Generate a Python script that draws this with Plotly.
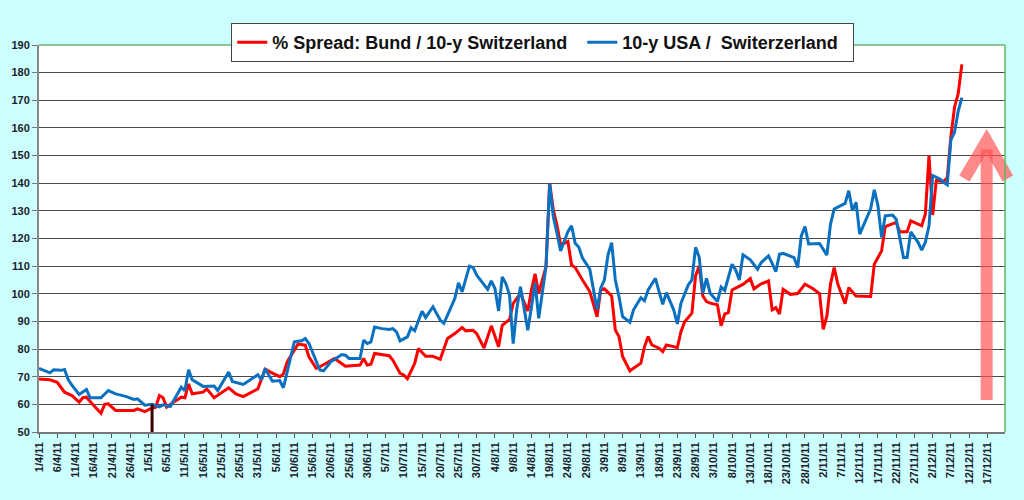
import plotly.graph_objects as go

# spread Bund vs 10-y Switzerland (bp)
bund_dates = [
    "2011-04-01", "2011-04-04", "2011-04-06", "2011-04-08", "2011-04-10", "2011-04-12", "2011-04-13",
    "2011-04-14", "2011-04-16", "2011-04-18", "2011-04-19", "2011-04-20", "2011-04-22", "2011-04-27",
    "2011-04-28", "2011-04-30", "2011-05-02", "2011-05-03", "2011-05-04", "2011-05-05", "2011-05-06",
    "2011-05-07", "2011-05-10", "2011-05-11", "2011-05-12", "2011-05-13", "2011-05-16", "2011-05-17",
    "2011-05-19", "2011-05-23", "2011-05-25", "2011-05-27", "2011-05-31", "2011-06-02", "2011-06-04",
    "2011-06-06", "2011-06-07", "2011-06-08", "2011-06-11", "2011-06-13", "2011-06-14", "2011-06-16",
    "2011-06-17", "2011-06-21", "2011-06-22", "2011-06-24", "2011-06-28", "2011-06-29", "2011-06-30",
    "2011-07-01", "2011-07-02", "2011-07-04", "2011-07-06", "2011-07-07", "2011-07-09", "2011-07-10",
    "2011-07-11", "2011-07-13", "2011-07-14", "2011-07-16", "2011-07-18", "2011-07-20", "2011-07-22",
    "2011-07-24", "2011-07-26", "2011-07-27", "2011-07-29", "2011-07-30", "2011-08-01", "2011-08-03",
    "2011-08-05", "2011-08-06", "2011-08-08", "2011-08-09", "2011-08-10", "2011-08-11", "2011-08-13",
    "2011-08-14", "2011-08-15", "2011-08-16", "2011-08-18", "2011-08-19", "2011-08-20", "2011-08-21",
    "2011-08-22", "2011-08-24", "2011-08-25", "2011-08-26", "2011-08-28", "2011-08-30", "2011-09-01",
    "2011-09-02", "2011-09-03", "2011-09-05", "2011-09-06", "2011-09-07", "2011-09-08", "2011-09-10",
    "2011-09-11", "2011-09-13", "2011-09-14", "2011-09-15", "2011-09-16", "2011-09-18", "2011-09-19",
    "2011-09-20", "2011-09-22", "2011-09-23", "2011-09-24", "2011-09-25", "2011-09-27", "2011-09-28",
    "2011-09-29", "2011-09-30", "2011-10-01", "2011-10-02", "2011-10-04", "2011-10-05", "2011-10-06",
    "2011-10-07", "2011-10-08", "2011-10-10", "2011-10-11", "2011-10-13", "2011-10-14", "2011-10-16",
    "2011-10-18", "2011-10-19", "2011-10-20", "2011-10-21", "2011-10-22", "2011-10-24", "2011-10-26",
    "2011-10-28", "2011-10-30", "2011-11-01", "2011-11-02", "2011-11-03", "2011-11-04", "2011-11-05",
    "2011-11-06", "2011-11-08", "2011-11-09", "2011-11-11", "2011-11-15", "2011-11-16", "2011-11-18",
    "2011-11-19", "2011-11-22", "2011-11-23", "2011-11-25", "2011-11-26", "2011-11-29", "2011-11-30",
    "2011-12-01", "2011-12-02", "2011-12-03", "2011-12-05", "2011-12-06", "2011-12-07", "2011-12-08",
    "2011-12-09", "2011-12-10",
]
bund_spread = [
    69.2, 68.9, 68.0, 64.4, 63.2, 60.8, 62.4,
    62.6, 59.6, 56.8, 60.0, 60.2, 57.8, 57.8,
    58.4, 57.4, 58.7, 59.0, 63.2, 62.4, 59.0,
    60.0, 62.6, 62.4, 67.4, 63.8, 64.4, 65.6,
    62.4, 66.0, 63.8, 62.8, 65.6, 72.7, 71.3,
    70.0, 71.0, 75.3, 81.8, 81.4, 77.2, 73.0,
    73.6, 76.6, 75.7, 73.8, 74.2, 76.6, 74.2,
    74.5, 78.4, 78.0, 77.6, 76.0, 71.2, 70.6,
    69.3, 74.8, 80.2, 77.4, 77.4, 76.3, 83.8,
    85.6, 87.8, 86.6, 86.8, 85.6, 80.4, 88.4,
    80.8, 88.6, 90.7, 96.5, 98.3, 100.1, 93.8,
    101.4, 107.2, 100.2, 109.8, 140.0, 130.4, 124.9,
    117.7, 118.9, 110.4, 109.5, 105.0, 100.8, 91.7,
    101.4, 101.8, 99.2, 86.9, 84.5, 77.3, 72.1,
    73.1, 74.9, 80.9, 84.5, 81.5, 80.3, 79.1,
    81.5, 80.9, 80.5, 86.3, 89.9, 93.0, 106.5,
    110.1, 99.2, 97.2, 96.6, 96.0, 88.4, 92.7,
    93.2, 101.4, 102.6, 103.4, 105.5, 101.8, 103.6,
    104.7, 94.2, 95.0, 92.7, 101.6, 99.8, 100.1,
    103.5, 102.0, 100.1, 87.1, 92.0, 103.5, 109.5,
    103.5, 96.4, 102.2, 99.2, 99.0, 110.7, 115.5,
    124.3, 125.8, 122.4, 122.4, 126.4, 124.6, 128.9,
    150.0, 128.5, 141.0, 140.6, 142.0, 157.0, 167.5,
    172.4, 183.0,
]

# spread 10-y USA vs 10-y Switzerland (bp)
usa_dates = [
    "2011-04-01", "2011-04-04", "2011-04-05", "2011-04-07", "2011-04-08", "2011-04-09", "2011-04-10",
    "2011-04-12", "2011-04-14", "2011-04-15", "2011-04-18", "2011-04-20", "2011-04-22", "2011-04-25",
    "2011-04-27", "2011-04-28", "2011-04-30", "2011-05-02", "2011-05-04", "2011-05-05", "2011-05-07",
    "2011-05-10", "2011-05-11", "2011-05-12", "2011-05-13", "2011-05-16", "2011-05-19", "2011-05-20",
    "2011-05-23", "2011-05-24", "2011-05-27", "2011-05-31", "2011-06-01", "2011-06-02", "2011-06-04",
    "2011-06-06", "2011-06-07", "2011-06-08", "2011-06-10", "2011-06-12", "2011-06-13", "2011-06-14",
    "2011-06-17", "2011-06-18", "2011-06-20", "2011-06-21", "2011-06-23", "2011-06-24", "2011-06-25",
    "2011-06-28", "2011-06-29", "2011-06-30", "2011-07-01", "2011-07-02", "2011-07-04", "2011-07-06",
    "2011-07-07", "2011-07-08", "2011-07-09", "2011-07-11", "2011-07-12", "2011-07-13", "2011-07-15",
    "2011-07-16", "2011-07-18", "2011-07-20", "2011-07-21", "2011-07-22", "2011-07-24", "2011-07-25",
    "2011-07-26", "2011-07-28", "2011-07-29", "2011-07-30", "2011-07-31", "2011-08-02", "2011-08-03",
    "2011-08-04", "2011-08-05", "2011-08-06", "2011-08-07", "2011-08-08", "2011-08-09", "2011-08-10",
    "2011-08-11", "2011-08-13", "2011-08-14", "2011-08-15", "2011-08-16", "2011-08-18", "2011-08-19",
    "2011-08-20", "2011-08-21", "2011-08-22", "2011-08-24", "2011-08-25", "2011-08-26", "2011-08-27",
    "2011-08-28", "2011-08-30", "2011-09-01", "2011-09-02", "2011-09-03", "2011-09-04", "2011-09-05",
    "2011-09-06", "2011-09-07", "2011-09-08", "2011-09-10", "2011-09-11", "2011-09-13", "2011-09-14",
    "2011-09-15", "2011-09-17", "2011-09-18", "2011-09-19", "2011-09-20", "2011-09-22", "2011-09-23",
    "2011-09-24", "2011-09-26", "2011-09-27", "2011-09-28", "2011-09-29", "2011-09-30", "2011-10-01",
    "2011-10-02", "2011-10-04", "2011-10-05", "2011-10-06", "2011-10-08", "2011-10-09", "2011-10-10",
    "2011-10-11", "2011-10-13", "2011-10-15", "2011-10-16", "2011-10-18", "2011-10-19", "2011-10-20",
    "2011-10-21", "2011-10-22", "2011-10-25", "2011-10-26", "2011-10-27", "2011-10-28", "2011-10-29",
    "2011-11-01", "2011-11-03", "2011-11-04", "2011-11-05", "2011-11-06", "2011-11-08", "2011-11-09",
    "2011-11-10", "2011-11-11", "2011-11-12", "2011-11-15", "2011-11-16", "2011-11-17", "2011-11-18",
    "2011-11-19", "2011-11-21", "2011-11-22", "2011-11-24", "2011-11-25", "2011-11-26", "2011-11-28",
    "2011-11-29", "2011-11-30", "2011-12-01", "2011-12-02", "2011-12-04", "2011-12-05", "2011-12-06",
    "2011-12-07", "2011-12-08", "2011-12-09", "2011-12-10",
]
usa_spread = [
    73.0, 71.4, 72.5, 72.3, 72.6, 69.0, 67.0,
    63.6, 65.4, 62.4, 62.4, 65.0, 63.8, 62.8,
    61.8, 62.0, 59.7, 60.0, 59.1, 59.8, 59.2,
    66.2, 65.0, 72.5, 68.9, 66.5, 66.6, 65.0,
    71.7, 68.3, 67.2, 70.7, 68.9, 72.9, 68.4,
    68.6, 66.0, 71.8, 82.6, 83.0, 83.8, 82.0,
    72.4, 72.1, 75.4, 76.2, 78.0, 77.8, 76.6,
    76.6, 83.2, 82.0, 82.6, 88.0, 87.4, 87.1,
    87.4, 86.2, 83.0, 84.4, 87.7, 86.6, 93.7,
    91.4, 95.3, 90.5, 89.3, 92.3, 98.3, 104.0,
    100.7, 110.0, 109.5, 106.7, 104.9, 101.6, 104.7,
    101.9, 93.8, 106.1, 103.7, 99.5, 82.0, 94.7,
    102.5, 86.8, 95.0, 104.0, 91.1, 109.8, 139.8,
    127.9, 121.9, 115.5, 122.5, 124.6, 118.3, 116.8,
    112.9, 108.9, 94.2, 102.0, 105.0, 114.1, 118.5,
    105.0, 99.0, 91.7, 89.7, 94.2, 98.6, 97.5,
    101.4, 105.6, 100.8, 96.2, 100.4, 94.2, 89.1,
    96.6, 103.2, 105.0, 116.8, 113.2, 100.2, 105.6,
    100.2, 97.2, 102.4, 101.2, 110.7, 108.6, 105.0,
    114.1, 112.3, 108.9, 111.3, 113.7, 111.0, 108.0,
    114.3, 114.6, 113.1, 109.5, 121.0, 124.3, 118.0,
    118.2, 114.0, 125.2, 130.7, 131.3, 132.7, 137.3,
    130.1, 133.1, 121.6, 130.7, 137.6, 131.9, 120.4,
    128.2, 128.5, 127.0, 113.1, 113.1, 122.4, 118.6,
    115.8, 118.6, 124.6, 142.8, 141.5, 140.3, 139.4,
    155.7, 158.5, 166.0, 171.0,
]

# small vertical marker at the start of May
marker_dates = ["2011-05-02", "2011-05-02"]
marker_levels = [50, 60]

y_ticks = list(range(50, 200, 10))

font_family = "Liberation Sans, Arial, sans-serif"
nbsp = "\u00a0"

fig = go.Figure()
fig.add_trace(go.Scatter(
    x=bund_dates, y=bund_spread, mode="lines",
    name="% Spread: Bund / 10-y Switzerland" + nbsp * 2,
    line=dict(color="#ff0000", width=3),
))
fig.add_trace(go.Scatter(
    x=usa_dates, y=usa_spread, mode="lines",
    name="10-y USA /" + nbsp + " Switerzerland" + nbsp * 2,
    line=dict(color="#0a70c0", width=3),
))
fig.add_trace(go.Scatter(
    x=marker_dates, y=marker_levels, mode="lines",
    line=dict(color="#3a0000", width=3), showlegend=False,
))

# pink arrow on the right (decoration)
arrow_col = "rgba(255,80,80,0.68)"
fig.add_shape(type="line", xref="paper", yref="paper",
              x0=0.981, y0=0.083, x1=0.981, y1=0.73,
              line=dict(color=arrow_col, width=12))
fig.add_shape(type="path", xref="paper", yref="paper",
              path="M 0.958,0.655 L 0.981,0.752 L 1.003,0.655",
              line=dict(color=arrow_col, width=12))

# green frame on top and right of the plot area
fig.add_shape(type="line", xref="paper", yref="paper", x0=0, y0=1, x1=1, y1=1,
              line=dict(color="#2e8b2e", width=1))
fig.add_shape(type="line", xref="paper", yref="paper", x0=1, y0=0, x1=1, y1=1,
              line=dict(color="#5fb85f", width=1.5))

fig.update_layout(
    width=1024, height=500,
    margin=dict(l=39, r=19, t=45, b=68),
    paper_bgcolor="#ccffff",
    plot_bgcolor="#ffffff",
    font=dict(family=font_family, color="#1c1c2a"),
    showlegend=True,
    legend=dict(
        orientation="h", x=0.199, y=1.057, xanchor="left", yanchor="top",
        bgcolor="#ffffff", bordercolor="#444444", borderwidth=1,
        font=dict(size=18, weight="bold", color="#111111"),
        itemwidth=30,
    ),
)
fig.update_xaxes(
    type="date",
    range=["2011-04-01", "2011-12-21 20:00"],
    tick0="2011-04-01", dtick=5 * 86400000,
    tickformat="%-d/%-m/%y", tickangle=-90,
    tickfont=dict(size=11, weight="bold"),
    ticks="outside", ticklen=4, tickcolor="#555555",
    showline=True, linecolor="#777777", linewidth=1.5,
    showgrid=False, zeroline=False,
)
fig.update_yaxes(
    range=[50, 190], tickvals=y_ticks,
    tickfont=dict(size=11, weight="bold"),
    ticks="outside", ticklen=5, tickcolor="#777777",
    showline=True, linecolor="#888888", linewidth=2,
    showgrid=True, gridcolor="#4a4a4a", gridwidth=1,
    zeroline=False,
)

fig.write_html("out.html", config={"displayModeBar": False},
               post_script="document.body.style.margin='0px';")
